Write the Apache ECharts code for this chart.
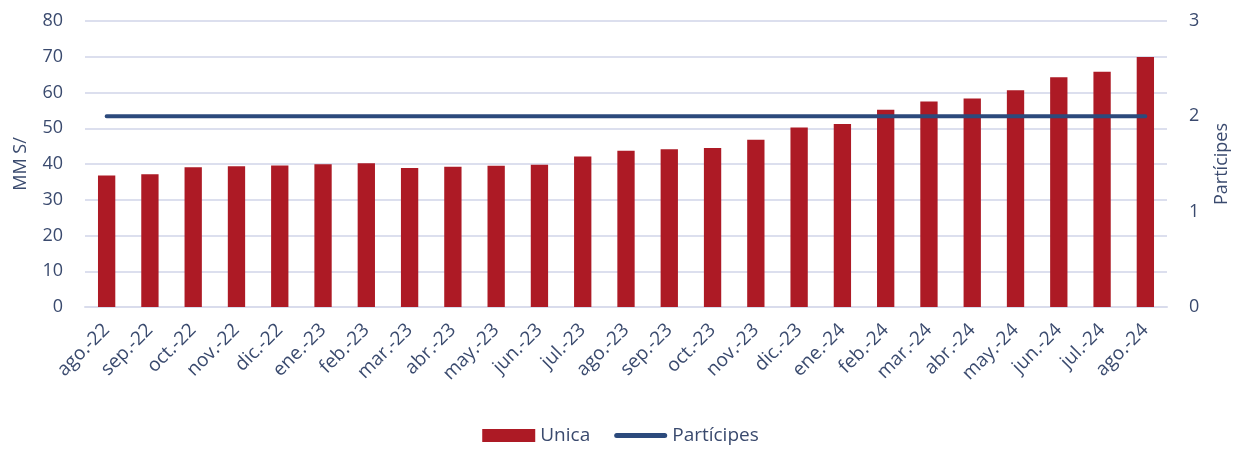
<!DOCTYPE html>
<html>
<head>
<meta charset="utf-8">
<script src="https://cdn.jsdelivr.net/npm/echarts@6/dist/echarts.min.js"></script>
<style>html,body{margin:0;padding:0;background:#fff}#c{width:1241px;height:450px}</style>
</head>
<body>
<div id="c"></div>
<script>
const categories = ['ago.-22','sep.-22','oct.-22','nov.-22','dic.-22','ene.-23','feb.-23','mar.-23','abr.-23','may.-23','jun.-23','jul.-23','ago.-23','sep.-23','oct.-23','nov.-23','dic.-23','ene.-24','feb.-24','mar.-24','abr.-24','may.-24','jun.-24','jul.-24','ago.-24'];
const unica = [36.8,37.1,39.1,39.4,39.6,39.9,40.2,38.9,39.2,39.5,39.8,42.1,43.7,44.1,44.5,46.8,50.2,51.2,55.2,57.5,58.3,60.6,64.3,65.8,69.9];
const participes = [2,2,2,2,2,2,2,2,2,2,2,2,2,2,2,2,2,2,2,2,2,2,2,2,2];
const leftTicks = {min:0,max:80,interval:10};
const rightTicks = {min:0,max:3,interval:1};

const txt = '#3A4A6E';
const font = '"Open Sans", "Noto Sans", sans-serif';
const chart = echarts.init(document.getElementById('c'));
chart.setOption({
  animation:false,
  textStyle:{fontFamily:font,color:txt},
  grid:{left:85,right:74,top:21,bottom:143},
  legend:{
    bottom:0,left:'center',itemGap:24,itemWidth:53,itemHeight:13,
    textStyle:{fontFamily:font,color:txt,fontSize:19},
    data:[{name:'Unica',icon:'rect'},
          {name:'Partícipes',icon:'path://M2.5,0 L50.5,0 A2.5,2.5 0 0 1 50.5,5 L2.5,5 A2.5,2.5 0 0 1 2.5,0 Z'}]
  },
  xAxis:{
    type:'category',data:categories,
    axisLine:{lineStyle:{color:'#D9DCEC',width:2}},
    axisTick:{show:false},
    axisLabel:{rotate:45,fontSize:19,color:txt,fontFamily:font,interval:0,margin:20}
  },
  yAxis:[
    {type:'value',min:leftTicks.min,max:leftTicks.max,interval:leftTicks.interval,
     name:'MM S/',nameLocation:'middle',nameGap:55,nameRotate:90,
     nameTextStyle:{fontSize:18,color:txt,fontFamily:font},
     axisLabel:{fontSize:18,color:txt,fontFamily:font,margin:22},
     axisLine:{show:false},axisTick:{show:false},
     splitLine:{lineStyle:{color:'#DCDFEE',width:2}}},
    {type:'value',min:rightTicks.min,max:rightTicks.max,interval:rightTicks.interval,
     name:'Partícipes',nameLocation:'middle',nameGap:46,nameRotate:90,
     nameTextStyle:{fontSize:18,color:txt,fontFamily:font},
     axisLabel:{fontSize:18,color:txt,fontFamily:font,margin:22},
     axisLine:{show:false},axisTick:{show:false},splitLine:{show:false}}
  ],
  series:[
    {name:'Unica',type:'bar',data:unica,barWidth:'40%',
     itemStyle:{color:'#AD1A25'}},
    {name:'Partícipes',type:'line',yAxisIndex:1,data:participes,
     symbol:'none',lineStyle:{color:'#2C4A7C',width:4,cap:'round'},
     itemStyle:{color:'#2C4A7C'}}
  ]
});
</script>
</body>
</html>
